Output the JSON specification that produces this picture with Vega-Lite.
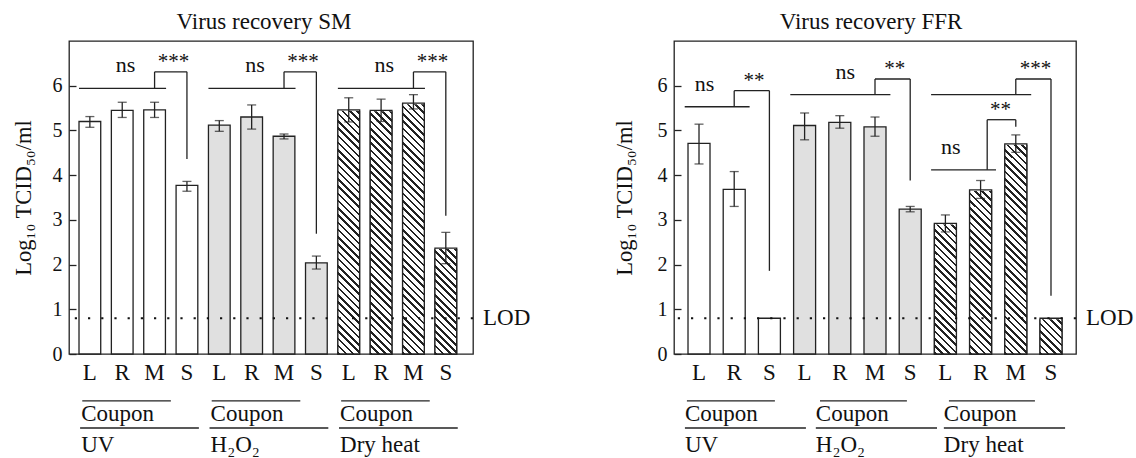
{
"$schema": "https://vega.github.io/schema/vega-lite/v6.json",
"padding": {"left": 11, "top": 10, "right": 5, "bottom": 0},
"bounds": "flush",
"spacing": 201,
"config": {
  "font": "Liberation Serif",
  "view": {"stroke": "#222", "strokeWidth": 1.3},
  "axis": {"grid": false, "labelColor": "#111", "titleColor": "#111", "titleFontWeight": "normal", "labelFont": "Liberation Serif", "titleFont": "Liberation Serif"},
  "text": {"color": "#111", "font": "Liberation Serif"}
},
"hconcat": [
{
  "width": 404, "height": 313,
  "title": {"text": "Virus recovery SM", "fontSize": 23, "fontWeight": "normal", "baseline": "alphabetic", "offset": -11, "anchor": "middle", "frame": "group", "dx": -7, "color": "#111"},
  "data": {"values": [
    {"key":"UV|L","treat":"UV","value":5.2,"lo":5.07,"hi":5.31},
    {"key":"UV|R","treat":"UV","value":5.45,"lo":5.29,"hi":5.63},
    {"key":"UV|M","treat":"UV","value":5.46,"lo":5.29,"hi":5.63},
    {"key":"UV|S","treat":"UV","value":3.77,"lo":3.64,"hi":3.86},
    {"key":"H2O2|L","treat":"H2O2","value":5.12,"lo":4.98,"hi":5.22},
    {"key":"H2O2|R","treat":"H2O2","value":5.3,"lo":5.03,"hi":5.57},
    {"key":"H2O2|M","treat":"H2O2","value":4.87,"lo":4.81,"hi":4.92},
    {"key":"H2O2|S","treat":"H2O2","value":2.04,"lo":1.9,"hi":2.19},
    {"key":"Dry heat|L","treat":"Dry heat","value":5.46,"lo":5.19,"hi":5.73},
    {"key":"Dry heat|R","treat":"Dry heat","value":5.45,"lo":5.2,"hi":5.7},
    {"key":"Dry heat|M","treat":"Dry heat","value":5.61,"lo":5.48,"hi":5.8},
    {"key":"Dry heat|S","treat":"Dry heat","value":2.37,"lo":2.02,"hi":2.72}
  ]},
  "layer": [
    {
      "mark": {"type": "bar", "stroke": "#222", "strokeWidth": 1.3},
      "encoding": {
        "x": {"field": "key", "type": "nominal", "sort": null,
          "scale": {"domain": ["UV|L","UV|R","UV|M","UV|S","H2O2|L","H2O2|R","H2O2|M","H2O2|S","Dry heat|L","Dry heat|R","Dry heat|M","Dry heat|S"], "paddingInner": 0.329, "paddingOuter": 0.407, "align": 0.38},
          "axis": {"labelExpr": "slice(datum.label, -1)", "labelFontSize": 23, "labelPadding": 7, "ticks": false, "domain": false, "title": null, "labelAngle": 0}},
        "y": {"field": "value", "type": "quantitative", "stack": null, "title": "Log₁₀ TCID₅₀/ml",
          "scale": {"domain": [0, 7], "nice": false},
          "axis": {"values": [0,1,2,3,4,5,6], "tickSize": -7, "tickColor": "#222", "tickWidth": 1.3, "labelPadding": 14, "labelFontSize": 20, "domain": false, "title": "Log₁₀ TCID₅₀/ml", "titleFontSize": 22.5, "titlePadding": 17}},
        "fill": {"field": "treat", "type": "nominal", "scale": {"domain": ["UV","H2O2","Dry heat"], "range": ["#ffffff","#e0e0e0","#ffffff"]}, "legend": null}
      }
    },
    {
      "transform": [{"filter": "datum.treat == 'Dry heat'"}],
      "mark": {"type": "bar", "strokeWidth": 0, "fill": {"gradient": "linear", "x1": 0, "y1": 1, "x2": 0.0869, "y2": -0.0739, "stops": [
{"offset":0,"color":"#222"},{"offset":0.009,"color":"#222"},{"offset":0.009,"color":"#fff"},{"offset":0.025,"color":"#fff"},
{"offset":0.025,"color":"#222"},{"offset":0.034,"color":"#222"},{"offset":0.034,"color":"#fff"},{"offset":0.05,"color":"#fff"},
{"offset":0.05,"color":"#222"},{"offset":0.059,"color":"#222"},{"offset":0.059,"color":"#fff"},{"offset":0.075,"color":"#fff"},
{"offset":0.075,"color":"#222"},{"offset":0.084,"color":"#222"},{"offset":0.084,"color":"#fff"},{"offset":0.1,"color":"#fff"},
{"offset":0.1,"color":"#222"},{"offset":0.109,"color":"#222"},{"offset":0.109,"color":"#fff"},{"offset":0.125,"color":"#fff"},
{"offset":0.125,"color":"#222"},{"offset":0.134,"color":"#222"},{"offset":0.134,"color":"#fff"},{"offset":0.15,"color":"#fff"},
{"offset":0.15,"color":"#222"},{"offset":0.159,"color":"#222"},{"offset":0.159,"color":"#fff"},{"offset":0.175,"color":"#fff"},
{"offset":0.175,"color":"#222"},{"offset":0.184,"color":"#222"},{"offset":0.184,"color":"#fff"},{"offset":0.2,"color":"#fff"},
{"offset":0.2,"color":"#222"},{"offset":0.209,"color":"#222"},{"offset":0.209,"color":"#fff"},{"offset":0.225,"color":"#fff"},
{"offset":0.225,"color":"#222"},{"offset":0.234,"color":"#222"},{"offset":0.234,"color":"#fff"},{"offset":0.25,"color":"#fff"},
{"offset":0.25,"color":"#222"},{"offset":0.259,"color":"#222"},{"offset":0.259,"color":"#fff"},{"offset":0.275,"color":"#fff"},
{"offset":0.275,"color":"#222"},{"offset":0.284,"color":"#222"},{"offset":0.284,"color":"#fff"},{"offset":0.3,"color":"#fff"},
{"offset":0.3,"color":"#222"},{"offset":0.309,"color":"#222"},{"offset":0.309,"color":"#fff"},{"offset":0.325,"color":"#fff"},
{"offset":0.325,"color":"#222"},{"offset":0.334,"color":"#222"},{"offset":0.334,"color":"#fff"},{"offset":0.35,"color":"#fff"},
{"offset":0.35,"color":"#222"},{"offset":0.359,"color":"#222"},{"offset":0.359,"color":"#fff"},{"offset":0.375,"color":"#fff"},
{"offset":0.375,"color":"#222"},{"offset":0.384,"color":"#222"},{"offset":0.384,"color":"#fff"},{"offset":0.4,"color":"#fff"},
{"offset":0.4,"color":"#222"},{"offset":0.409,"color":"#222"},{"offset":0.409,"color":"#fff"},{"offset":0.425,"color":"#fff"},
{"offset":0.425,"color":"#222"},{"offset":0.434,"color":"#222"},{"offset":0.434,"color":"#fff"},{"offset":0.45,"color":"#fff"},
{"offset":0.45,"color":"#222"},{"offset":0.459,"color":"#222"},{"offset":0.459,"color":"#fff"},{"offset":0.475,"color":"#fff"},
{"offset":0.475,"color":"#222"},{"offset":0.484,"color":"#222"},{"offset":0.484,"color":"#fff"},{"offset":0.5,"color":"#fff"},
{"offset":0.5,"color":"#222"},{"offset":0.509,"color":"#222"},{"offset":0.509,"color":"#fff"},{"offset":0.525,"color":"#fff"},
{"offset":0.525,"color":"#222"},{"offset":0.534,"color":"#222"},{"offset":0.534,"color":"#fff"},{"offset":0.55,"color":"#fff"},
{"offset":0.55,"color":"#222"},{"offset":0.559,"color":"#222"},{"offset":0.559,"color":"#fff"},{"offset":0.575,"color":"#fff"},
{"offset":0.575,"color":"#222"},{"offset":0.584,"color":"#222"},{"offset":0.584,"color":"#fff"},{"offset":0.6,"color":"#fff"},
{"offset":0.6,"color":"#222"},{"offset":0.609,"color":"#222"},{"offset":0.609,"color":"#fff"},{"offset":0.625,"color":"#fff"},
{"offset":0.625,"color":"#222"},{"offset":0.634,"color":"#222"},{"offset":0.634,"color":"#fff"},{"offset":0.65,"color":"#fff"},
{"offset":0.65,"color":"#222"},{"offset":0.659,"color":"#222"},{"offset":0.659,"color":"#fff"},{"offset":0.675,"color":"#fff"},
{"offset":0.675,"color":"#222"},{"offset":0.684,"color":"#222"},{"offset":0.684,"color":"#fff"},{"offset":0.7,"color":"#fff"},
{"offset":0.7,"color":"#222"},{"offset":0.709,"color":"#222"},{"offset":0.709,"color":"#fff"},{"offset":0.725,"color":"#fff"},
{"offset":0.725,"color":"#222"},{"offset":0.734,"color":"#222"},{"offset":0.734,"color":"#fff"},{"offset":0.75,"color":"#fff"},
{"offset":0.75,"color":"#222"},{"offset":0.759,"color":"#222"},{"offset":0.759,"color":"#fff"},{"offset":0.775,"color":"#fff"},
{"offset":0.775,"color":"#222"},{"offset":0.784,"color":"#222"},{"offset":0.784,"color":"#fff"},{"offset":0.8,"color":"#fff"},
{"offset":0.8,"color":"#222"},{"offset":0.809,"color":"#222"},{"offset":0.809,"color":"#fff"},{"offset":0.825,"color":"#fff"},
{"offset":0.825,"color":"#222"},{"offset":0.834,"color":"#222"},{"offset":0.834,"color":"#fff"},{"offset":0.85,"color":"#fff"},
{"offset":0.85,"color":"#222"},{"offset":0.859,"color":"#222"},{"offset":0.859,"color":"#fff"},{"offset":0.875,"color":"#fff"},
{"offset":0.875,"color":"#222"},{"offset":0.884,"color":"#222"},{"offset":0.884,"color":"#fff"},{"offset":0.9,"color":"#fff"},
{"offset":0.9,"color":"#222"},{"offset":0.909,"color":"#222"},{"offset":0.909,"color":"#fff"},{"offset":0.925,"color":"#fff"},
{"offset":0.925,"color":"#222"},{"offset":0.934,"color":"#222"},{"offset":0.934,"color":"#fff"},{"offset":0.95,"color":"#fff"},
{"offset":0.95,"color":"#222"},{"offset":0.959,"color":"#222"},{"offset":0.959,"color":"#fff"},{"offset":0.975,"color":"#fff"},
{"offset":0.975,"color":"#222"},{"offset":0.984,"color":"#222"},{"offset":0.984,"color":"#fff"},{"offset":1,"color":"#fff"}
      ]}},
      "encoding": {
        "x": {"field": "key", "type": "nominal", "sort": null},
        "y": {"datum": 0, "type": "quantitative"},
        "y2": {"datum": 6}
      }
    },
    {
      "transform": [{"filter": "datum.treat == 'Dry heat'"}],
      "mark": {"type": "bar", "fill": "#ffffff", "stroke": "#ffffff", "strokeWidth": 2},
      "encoding": {
        "x": {"field": "key", "type": "nominal", "sort": null},
        "y": {"field": "value", "type": "quantitative", "title": "Log₁₀ TCID₅₀/ml"},
        "y2": {"datum": 6.05}
      }
    },
    {
      "transform": [{"filter": "datum.treat == 'Dry heat'"}],
      "mark": {"type": "bar", "fill": "transparent", "stroke": "#222", "strokeWidth": 1.3},
      "encoding": {
        "x": {"field": "key", "type": "nominal", "sort": null},
        "y": {"field": "value", "type": "quantitative", "stack": null, "title": "Log₁₀ TCID₅₀/ml"}
      }
    },
    {
      "transform": [{"filter": "isValid(datum.lo)"}],
      "mark": {"type": "errorbar", "ticks": true, "size": 9, "thickness": 1.3, "color": "#222"},
      "encoding": {
        "x": {"field": "key", "type": "nominal", "sort": null},
        "y": {"field": "lo", "type": "quantitative", "title": "Log₁₀ TCID₅₀/ml"},
        "y2": {"field": "hi"}
      }
    },
    {
      "data": {"values": [{"lod": 0.8}]},
      "mark": {"type": "rule", "color": "#111", "strokeWidth": 2.2, "strokeDash": [2.2, 11]},
      "encoding": {"y": {"field": "lod", "type": "quantitative", "title": "Log₁₀ TCID₅₀/ml"}}
    },
    {
      "data": {"values": [{"lod": 0.8}]},
      "mark": {"type": "text", "text": "LOD", "align": "left", "baseline": "middle", "dx": 10, "fontSize": 23},
      "encoding": {"x": {"value": "width"}, "y": {"field": "lod", "type": "quantitative", "title": "Log₁₀ TCID₅₀/ml"}}
    },
    {
      "data": {"values": [
        {"a":"UV|L","b":"UV|M","y":5.94},
        {"a":"H2O2|L","b":"H2O2|M","y":5.94},
        {"a":"Dry heat|L","b":"Dry heat|M","y":5.94}
      ]},
      "mark": {"type": "rule", "color": "#222", "strokeWidth": 1.3},
      "encoding": {
        "x": {"field": "a", "type": "nominal", "sort": null, "bandPosition": 0},
        "x2": {"field": "b", "bandPosition": 1.03},
        "y": {"field": "y", "type": "quantitative", "title": "Log₁₀ TCID₅₀/ml"}
      }
    },
    {
      "data": {"values": [
        {"a":"UV|M","b":"UV|M","y1":5.94,"y2":6.31},
        {"a":"UV|M","b":"UV|S","y1":6.31,"y2":6.31},
        {"a":"UV|S","b":"UV|S","y1":6.31,"y2":4.36},
        {"a":"H2O2|M","b":"H2O2|M","y1":5.94,"y2":6.31},
        {"a":"H2O2|M","b":"H2O2|S","y1":6.31,"y2":6.31},
        {"a":"H2O2|S","b":"H2O2|S","y1":6.31,"y2":2.69},
        {"a":"Dry heat|M","b":"Dry heat|M","y1":5.94,"y2":6.31},
        {"a":"Dry heat|M","b":"Dry heat|S","y1":6.31,"y2":6.31},
        {"a":"Dry heat|S","b":"Dry heat|S","y1":6.31,"y2":3.09}
      ]},
      "mark": {"type": "rule", "color": "#222", "strokeWidth": 1.3},
      "encoding": {
        "x": {"field": "a", "type": "nominal", "sort": null, "bandPosition": 0.5},
        "x2": {"field": "b", "bandPosition": 0.5},
        "y": {"field": "y1", "type": "quantitative", "title": "Log₁₀ TCID₅₀/ml"},
        "y2": {"field": "y2"}
      }
    },
    {
      "data": {"values": [
        {"a":"UV|R","y":6.3},
        {"a":"H2O2|R","y":6.3},
        {"a":"Dry heat|R","y":6.3}
      ]},
      "mark": {"type": "text", "text": "ns", "align": "center", "baseline": "alphabetic", "fontSize": 22},
      "encoding": {
        "x": {"field": "a", "type": "nominal", "sort": null, "bandPosition": 0.65},
        "y": {"field": "y", "type": "quantitative", "title": "Log₁₀ TCID₅₀/ml"}
      }
    },
    {
      "data": {"values": [
        {"a":"UV|M","y":6.4,"t":"***"},
        {"a":"H2O2|M","y":6.4,"t":"***"},
        {"a":"Dry heat|M","y":6.4,"t":"***"}
      ]},
      "mark": {"type": "text", "align": "center", "baseline": "alphabetic", "fontSize": 21},
      "encoding": {
        "x": {"field": "a", "type": "nominal", "sort": null, "bandPosition": 1.375},
        "y": {"field": "y", "type": "quantitative", "title": "Log₁₀ TCID₅₀/ml"},
        "text": {"field": "t"}
      }
    },
    {
      "data": {"values": [
        {"L":"UV|L","M":"UV|M","S":"UV|S","label":"UV"},
        {"L":"H2O2|L","M":"H2O2|M","S":"H2O2|S","label":"H₂O₂"},
        {"L":"Dry heat|L","M":"Dry heat|M","S":"Dry heat|S","label":"Dry heat"}
      ]},
      "layer": [
        {"mark": {"type": "rule", "color": "#222", "strokeWidth": 1.3},
         "encoding": {"x": {"field": "L", "type": "nominal", "sort": null, "bandPosition": 0.15}, "x2": {"field": "M", "bandPosition": 1.25}, "y": {"datum": -1.05, "type": "quantitative", "title": "Log₁₀ TCID₅₀/ml"}}},
        {"mark": {"type": "rule", "color": "#222", "strokeWidth": 1.3},
         "encoding": {"x": {"field": "L", "type": "nominal", "sort": null, "bandPosition": 0.05}, "x2": {"field": "S", "bandPosition": 1.05}, "y": {"datum": -1.655, "type": "quantitative", "title": "Log₁₀ TCID₅₀/ml"}}},
        {"mark": {"type": "text", "text": "Coupon", "align": "left", "baseline": "alphabetic", "fontSize": 23},
         "encoding": {"x": {"field": "L", "type": "nominal", "sort": null, "bandPosition": 0.1}, "y": {"datum": -1.507, "type": "quantitative", "title": "Log₁₀ TCID₅₀/ml"}}},
        {"mark": {"type": "text", "align": "left", "baseline": "alphabetic", "fontSize": 23},
         "encoding": {"x": {"field": "L", "type": "nominal", "sort": null, "bandPosition": 0.1}, "text": {"field": "label"}, "y": {"datum": -2.2, "type": "quantitative", "title": "Log₁₀ TCID₅₀/ml"}}}
      ]
    }
  ]
},
{
  "width": 402, "height": 313,
  "title": {"text": "Virus recovery FFR", "fontSize": 23, "fontWeight": "normal", "baseline": "alphabetic", "offset": -11, "anchor": "middle", "frame": "group", "dx": -4, "color": "#111"},
  "data": {"values": [
    {"key":"UV|L","treat":"UV","value":4.71,"lo":4.25,"hi":5.14},
    {"key":"UV|R","treat":"UV","value":3.68,"lo":3.3,"hi":4.08},
    {"key":"UV|S","treat":"UV","value":0.8,"lo":null,"hi":null},
    {"key":"H2O2|L","treat":"H2O2","value":5.11,"lo":4.79,"hi":5.39},
    {"key":"H2O2|R","treat":"H2O2","value":5.18,"lo":5.05,"hi":5.33},
    {"key":"H2O2|M","treat":"H2O2","value":5.08,"lo":4.87,"hi":5.3},
    {"key":"H2O2|S","treat":"H2O2","value":3.24,"lo":3.18,"hi":3.3},
    {"key":"Dry heat|L","treat":"Dry heat","value":2.92,"lo":2.73,"hi":3.11},
    {"key":"Dry heat|R","treat":"Dry heat","value":3.67,"lo":3.48,"hi":3.88},
    {"key":"Dry heat|M","treat":"Dry heat","value":4.7,"lo":4.51,"hi":4.9},
    {"key":"Dry heat|S","treat":"Dry heat","value":0.8,"lo":null,"hi":null}
  ]},
  "layer": [
    {
      "mark": {"type": "bar", "stroke": "#222", "strokeWidth": 1.3},
      "encoding": {
        "x": {"field": "key", "type": "nominal", "sort": null,
          "scale": {"domain": ["UV|L","UV|R","UV|S","H2O2|L","H2O2|R","H2O2|M","H2O2|S","Dry heat|L","Dry heat|R","Dry heat|M","Dry heat|S"], "paddingInner": 0.375, "paddingOuter": 0.398, "align": 0.5},
          "axis": {"labelExpr": "slice(datum.label, -1)", "labelFontSize": 23, "labelPadding": 7, "ticks": false, "domain": false, "title": null, "labelAngle": 0}},
        "y": {"field": "value", "type": "quantitative", "stack": null, "title": "Log₁₀ TCID₅₀/ml",
          "scale": {"domain": [0, 7], "nice": false},
          "axis": {"values": [0,1,2,3,4,5,6], "tickSize": -7, "tickColor": "#222", "tickWidth": 1.3, "labelPadding": 14, "labelFontSize": 20, "domain": false, "title": "Log₁₀ TCID₅₀/ml", "titleFontSize": 22.5, "titlePadding": 21}},
        "fill": {"field": "treat", "type": "nominal", "scale": {"domain": ["UV","H2O2","Dry heat"], "range": ["#ffffff","#e0e0e0","#ffffff"]}, "legend": null}
      }
    },
    {
      "transform": [{"filter": "datum.treat == 'Dry heat'"}],
      "mark": {"type": "bar", "strokeWidth": 0, "fill": {"gradient": "linear", "x1": 0, "y1": 1, "x2": 0.0881, "y2": -0.0748, "stops": [
{"offset":0,"color":"#222"},{"offset":0.009,"color":"#222"},{"offset":0.009,"color":"#fff"},{"offset":0.025,"color":"#fff"},
{"offset":0.025,"color":"#222"},{"offset":0.034,"color":"#222"},{"offset":0.034,"color":"#fff"},{"offset":0.05,"color":"#fff"},
{"offset":0.05,"color":"#222"},{"offset":0.059,"color":"#222"},{"offset":0.059,"color":"#fff"},{"offset":0.075,"color":"#fff"},
{"offset":0.075,"color":"#222"},{"offset":0.084,"color":"#222"},{"offset":0.084,"color":"#fff"},{"offset":0.1,"color":"#fff"},
{"offset":0.1,"color":"#222"},{"offset":0.109,"color":"#222"},{"offset":0.109,"color":"#fff"},{"offset":0.125,"color":"#fff"},
{"offset":0.125,"color":"#222"},{"offset":0.134,"color":"#222"},{"offset":0.134,"color":"#fff"},{"offset":0.15,"color":"#fff"},
{"offset":0.15,"color":"#222"},{"offset":0.159,"color":"#222"},{"offset":0.159,"color":"#fff"},{"offset":0.175,"color":"#fff"},
{"offset":0.175,"color":"#222"},{"offset":0.184,"color":"#222"},{"offset":0.184,"color":"#fff"},{"offset":0.2,"color":"#fff"},
{"offset":0.2,"color":"#222"},{"offset":0.209,"color":"#222"},{"offset":0.209,"color":"#fff"},{"offset":0.225,"color":"#fff"},
{"offset":0.225,"color":"#222"},{"offset":0.234,"color":"#222"},{"offset":0.234,"color":"#fff"},{"offset":0.25,"color":"#fff"},
{"offset":0.25,"color":"#222"},{"offset":0.259,"color":"#222"},{"offset":0.259,"color":"#fff"},{"offset":0.275,"color":"#fff"},
{"offset":0.275,"color":"#222"},{"offset":0.284,"color":"#222"},{"offset":0.284,"color":"#fff"},{"offset":0.3,"color":"#fff"},
{"offset":0.3,"color":"#222"},{"offset":0.309,"color":"#222"},{"offset":0.309,"color":"#fff"},{"offset":0.325,"color":"#fff"},
{"offset":0.325,"color":"#222"},{"offset":0.334,"color":"#222"},{"offset":0.334,"color":"#fff"},{"offset":0.35,"color":"#fff"},
{"offset":0.35,"color":"#222"},{"offset":0.359,"color":"#222"},{"offset":0.359,"color":"#fff"},{"offset":0.375,"color":"#fff"},
{"offset":0.375,"color":"#222"},{"offset":0.384,"color":"#222"},{"offset":0.384,"color":"#fff"},{"offset":0.4,"color":"#fff"},
{"offset":0.4,"color":"#222"},{"offset":0.409,"color":"#222"},{"offset":0.409,"color":"#fff"},{"offset":0.425,"color":"#fff"},
{"offset":0.425,"color":"#222"},{"offset":0.434,"color":"#222"},{"offset":0.434,"color":"#fff"},{"offset":0.45,"color":"#fff"},
{"offset":0.45,"color":"#222"},{"offset":0.459,"color":"#222"},{"offset":0.459,"color":"#fff"},{"offset":0.475,"color":"#fff"},
{"offset":0.475,"color":"#222"},{"offset":0.484,"color":"#222"},{"offset":0.484,"color":"#fff"},{"offset":0.5,"color":"#fff"},
{"offset":0.5,"color":"#222"},{"offset":0.509,"color":"#222"},{"offset":0.509,"color":"#fff"},{"offset":0.525,"color":"#fff"},
{"offset":0.525,"color":"#222"},{"offset":0.534,"color":"#222"},{"offset":0.534,"color":"#fff"},{"offset":0.55,"color":"#fff"},
{"offset":0.55,"color":"#222"},{"offset":0.559,"color":"#222"},{"offset":0.559,"color":"#fff"},{"offset":0.575,"color":"#fff"},
{"offset":0.575,"color":"#222"},{"offset":0.584,"color":"#222"},{"offset":0.584,"color":"#fff"},{"offset":0.6,"color":"#fff"},
{"offset":0.6,"color":"#222"},{"offset":0.609,"color":"#222"},{"offset":0.609,"color":"#fff"},{"offset":0.625,"color":"#fff"},
{"offset":0.625,"color":"#222"},{"offset":0.634,"color":"#222"},{"offset":0.634,"color":"#fff"},{"offset":0.65,"color":"#fff"},
{"offset":0.65,"color":"#222"},{"offset":0.659,"color":"#222"},{"offset":0.659,"color":"#fff"},{"offset":0.675,"color":"#fff"},
{"offset":0.675,"color":"#222"},{"offset":0.684,"color":"#222"},{"offset":0.684,"color":"#fff"},{"offset":0.7,"color":"#fff"},
{"offset":0.7,"color":"#222"},{"offset":0.709,"color":"#222"},{"offset":0.709,"color":"#fff"},{"offset":0.725,"color":"#fff"},
{"offset":0.725,"color":"#222"},{"offset":0.734,"color":"#222"},{"offset":0.734,"color":"#fff"},{"offset":0.75,"color":"#fff"},
{"offset":0.75,"color":"#222"},{"offset":0.759,"color":"#222"},{"offset":0.759,"color":"#fff"},{"offset":0.775,"color":"#fff"},
{"offset":0.775,"color":"#222"},{"offset":0.784,"color":"#222"},{"offset":0.784,"color":"#fff"},{"offset":0.8,"color":"#fff"},
{"offset":0.8,"color":"#222"},{"offset":0.809,"color":"#222"},{"offset":0.809,"color":"#fff"},{"offset":0.825,"color":"#fff"},
{"offset":0.825,"color":"#222"},{"offset":0.834,"color":"#222"},{"offset":0.834,"color":"#fff"},{"offset":0.85,"color":"#fff"},
{"offset":0.85,"color":"#222"},{"offset":0.859,"color":"#222"},{"offset":0.859,"color":"#fff"},{"offset":0.875,"color":"#fff"},
{"offset":0.875,"color":"#222"},{"offset":0.884,"color":"#222"},{"offset":0.884,"color":"#fff"},{"offset":0.9,"color":"#fff"},
{"offset":0.9,"color":"#222"},{"offset":0.909,"color":"#222"},{"offset":0.909,"color":"#fff"},{"offset":0.925,"color":"#fff"},
{"offset":0.925,"color":"#222"},{"offset":0.934,"color":"#222"},{"offset":0.934,"color":"#fff"},{"offset":0.95,"color":"#fff"},
{"offset":0.95,"color":"#222"},{"offset":0.959,"color":"#222"},{"offset":0.959,"color":"#fff"},{"offset":0.975,"color":"#fff"},
{"offset":0.975,"color":"#222"},{"offset":0.984,"color":"#222"},{"offset":0.984,"color":"#fff"},{"offset":1,"color":"#fff"}
      ]}},
      "encoding": {
        "x": {"field": "key", "type": "nominal", "sort": null},
        "y": {"datum": 0, "type": "quantitative"},
        "y2": {"datum": 6}
      }
    },
    {
      "transform": [{"filter": "datum.treat == 'Dry heat'"}],
      "mark": {"type": "bar", "fill": "#ffffff", "stroke": "#ffffff", "strokeWidth": 2},
      "encoding": {
        "x": {"field": "key", "type": "nominal", "sort": null},
        "y": {"field": "value", "type": "quantitative", "title": "Log₁₀ TCID₅₀/ml"},
        "y2": {"datum": 6.05}
      }
    },
    {
      "transform": [{"filter": "datum.treat == 'Dry heat'"}],
      "mark": {"type": "bar", "fill": "transparent", "stroke": "#222", "strokeWidth": 1.3},
      "encoding": {
        "x": {"field": "key", "type": "nominal", "sort": null},
        "y": {"field": "value", "type": "quantitative", "stack": null, "title": "Log₁₀ TCID₅₀/ml"}
      }
    },
    {
      "transform": [{"filter": "isValid(datum.lo)"}],
      "mark": {"type": "errorbar", "ticks": true, "size": 9, "thickness": 1.3, "color": "#222"},
      "encoding": {
        "x": {"field": "key", "type": "nominal", "sort": null},
        "y": {"field": "lo", "type": "quantitative", "title": "Log₁₀ TCID₅₀/ml"},
        "y2": {"field": "hi"}
      }
    },
    {
      "data": {"values": [{"lod": 0.8}]},
      "mark": {"type": "rule", "color": "#111", "strokeWidth": 2.2, "strokeDash": [2.2, 11]},
      "encoding": {"y": {"field": "lod", "type": "quantitative", "title": "Log₁₀ TCID₅₀/ml"}}
    },
    {
      "data": {"values": [{"lod": 0.8}]},
      "mark": {"type": "text", "text": "LOD", "align": "left", "baseline": "middle", "dx": 10, "fontSize": 23},
      "encoding": {"x": {"value": "width"}, "y": {"field": "lod", "type": "quantitative", "title": "Log₁₀ TCID₅₀/ml"}}
    },
    {
      "data": {"values": [
        {"a":"UV|L","b":"UV|R","y":5.53},
        {"a":"H2O2|L","b":"H2O2|M","y":5.8},
        {"a":"Dry heat|L","b":"Dry heat|M","y":5.8},
        {"a":"Dry heat|L","b":"Dry heat|R","y":4.12}
      ]},
      "mark": {"type": "rule", "color": "#222", "strokeWidth": 1.3},
      "encoding": {
        "x": {"field": "a", "type": "nominal", "sort": null, "bandPosition": -0.15},
        "x2": {"field": "b", "bandPosition": 1.2},
        "y": {"field": "y", "type": "quantitative", "title": "Log₁₀ TCID₅₀/ml"}
      }
    },
    {
      "data": {"values": [
        {"a":"UV|R","b":"UV|R","y1":5.53,"y2":5.89},
        {"a":"UV|R","b":"UV|S","y1":5.89,"y2":5.89},
        {"a":"UV|S","b":"UV|S","y1":5.89,"y2":1.86},
        {"a":"H2O2|M","b":"H2O2|M","y1":5.8,"y2":6.15},
        {"a":"H2O2|M","b":"H2O2|S","y1":6.15,"y2":6.15},
        {"a":"H2O2|S","b":"H2O2|S","y1":6.15,"y2":3.88},
        {"a":"Dry heat|M","b":"Dry heat|M","y1":5.8,"y2":6.15},
        {"a":"Dry heat|M","b":"Dry heat|S","y1":6.15,"y2":6.15},
        {"a":"Dry heat|S","b":"Dry heat|S","y1":6.15,"y2":1.3},
        {"a":"Dry heat|M","b":"Dry heat|M","y1":5.24,"y2":5.08}
      ]},
      "mark": {"type": "rule", "color": "#222", "strokeWidth": 1.3},
      "encoding": {
        "x": {"field": "a", "type": "nominal", "sort": null, "bandPosition": 0.5},
        "x2": {"field": "b", "bandPosition": 0.5},
        "y": {"field": "y1", "type": "quantitative", "title": "Log₁₀ TCID₅₀/ml"},
        "y2": {"field": "y2"}
      }
    },
    {
      "data": {"values": [{"a":"Dry heat|R","y1":4.12,"y2":5.24}]},
      "mark": {"type": "rule", "color": "#222", "strokeWidth": 1.3},
      "encoding": {
        "x": {"field": "a", "type": "nominal", "sort": null, "bandPosition": 0.8},
        "y": {"field": "y1", "type": "quantitative", "title": "Log₁₀ TCID₅₀/ml"},
        "y2": {"field": "y2"}
      }
    },
    {
      "data": {"values": [{"a":"Dry heat|R","b":"Dry heat|M","y":5.24}]},
      "mark": {"type": "rule", "color": "#222", "strokeWidth": 1.3},
      "encoding": {
        "x": {"field": "a", "type": "nominal", "sort": null, "bandPosition": 0.8},
        "x2": {"field": "b", "bandPosition": 0.5},
        "y": {"field": "y", "type": "quantitative", "title": "Log₁₀ TCID₅₀/ml"}
      }
    },
    {
      "data": {"values": [
        {"a":"UV|L","y":5.89},
        {"a":"H2O2|R","y":6.15},
        {"a":"Dry heat|L","y":4.47}
      ]},
      "mark": {"type": "text", "text": "ns", "align": "center", "baseline": "alphabetic", "fontSize": 22},
      "encoding": {
        "x": {"field": "a", "type": "nominal", "sort": null, "bandPosition": 0.75},
        "y": {"field": "y", "type": "quantitative", "title": "Log₁₀ TCID₅₀/ml"}
      }
    },
    {
      "data": {"values": [
        {"a":"UV|R","y":5.98,"t":"**"},
        {"a":"H2O2|M","y":6.24,"t":"**"},
        {"a":"Dry heat|M","y":6.24,"t":"***"},
        {"a":"Dry heat|R","y":5.33,"t":"**"}
      ]},
      "mark": {"type": "text", "align": "center", "baseline": "alphabetic", "fontSize": 21},
      "encoding": {
        "x": {"field": "a", "type": "nominal", "sort": null, "bandPosition": 1.4},
        "y": {"field": "y", "type": "quantitative", "title": "Log₁₀ TCID₅₀/ml"},
        "text": {"field": "t"}
      }
    },
    {
      "data": {"values": [
        {"a":"UV|L","b":"UV|S","c":"H2O2|L","label":"UV"}
      ]},
      "layer": [
        {"mark": {"type": "rule", "color": "#222", "strokeWidth": 1.3},
         "encoding": {"x": {"field": "a", "type": "nominal", "sort": null, "bandPosition": -0.05}, "x2": {"field": "b", "bandPosition": 0.75}, "y": {"datum": -1.05, "type": "quantitative", "title": "Log₁₀ TCID₅₀/ml"}}},
        {"mark": {"type": "rule", "color": "#222", "strokeWidth": 1.3},
         "encoding": {"x": {"field": "a", "type": "nominal", "sort": null, "bandPosition": -0.14}, "x2": {"field": "c", "bandPosition": 0.56}, "y": {"datum": -1.655, "type": "quantitative", "title": "Log₁₀ TCID₅₀/ml"}}},
        {"mark": {"type": "text", "text": "Coupon", "align": "left", "baseline": "alphabetic", "fontSize": 23},
         "encoding": {"x": {"field": "a", "type": "nominal", "sort": null, "bandPosition": -0.14}, "y": {"datum": -1.507, "type": "quantitative", "title": "Log₁₀ TCID₅₀/ml"}}},
        {"mark": {"type": "text", "align": "left", "baseline": "alphabetic", "fontSize": 23},
         "encoding": {"x": {"field": "a", "type": "nominal", "sort": null, "bandPosition": -0.14}, "text": {"field": "label"}, "y": {"datum": -2.2, "type": "quantitative", "title": "Log₁₀ TCID₅₀/ml"}}}
      ]
    },
    {
      "data": {"values": [
        {"a":"H2O2|L","b":"H2O2|S","c":"Dry heat|L","label":"H₂O₂"}
      ]},
      "layer": [
        {"mark": {"type": "rule", "color": "#222", "strokeWidth": 1.3},
         "encoding": {"x": {"field": "a", "type": "nominal", "sort": null, "bandPosition": 1.2}, "x2": {"field": "b", "bandPosition": 0.35}, "y": {"datum": -1.05, "type": "quantitative", "title": "Log₁₀ TCID₅₀/ml"}}},
        {"mark": {"type": "rule", "color": "#222", "strokeWidth": 1.3},
         "encoding": {"x": {"field": "a", "type": "nominal", "sort": null, "bandPosition": 1.01}, "x2": {"field": "c", "bandPosition": 0.12}, "y": {"datum": -1.655, "type": "quantitative", "title": "Log₁₀ TCID₅₀/ml"}}},
        {"mark": {"type": "text", "text": "Coupon", "align": "left", "baseline": "alphabetic", "fontSize": 23},
         "encoding": {"x": {"field": "a", "type": "nominal", "sort": null, "bandPosition": 1.01}, "y": {"datum": -1.507, "type": "quantitative", "title": "Log₁₀ TCID₅₀/ml"}}},
        {"mark": {"type": "text", "align": "left", "baseline": "alphabetic", "fontSize": 23},
         "encoding": {"x": {"field": "a", "type": "nominal", "sort": null, "bandPosition": 1.01}, "text": {"field": "label"}, "y": {"datum": -2.2, "type": "quantitative", "title": "Log₁₀ TCID₅₀/ml"}}}
      ]
    },
    {
      "data": {"values": [
        {"a":"Dry heat|L","b":"Dry heat|M","c":"Dry heat|S","label":"Dry heat"}
      ]},
      "layer": [
        {"mark": {"type": "rule", "color": "#222", "strokeWidth": 1.3},
         "encoding": {"x": {"field": "a", "type": "nominal", "sort": null, "bandPosition": 0.66}, "x2": {"field": "b", "bandPosition": 1.37}, "y": {"datum": -1.05, "type": "quantitative", "title": "Log₁₀ TCID₅₀/ml"}}},
        {"mark": {"type": "rule", "color": "#222", "strokeWidth": 1.3},
         "encoding": {"x": {"field": "a", "type": "nominal", "sort": null, "bandPosition": 0.43}, "x2": {"field": "c", "bandPosition": 1.14}, "y": {"datum": -1.655, "type": "quantitative", "title": "Log₁₀ TCID₅₀/ml"}}},
        {"mark": {"type": "text", "text": "Coupon", "align": "left", "baseline": "alphabetic", "fontSize": 23},
         "encoding": {"x": {"field": "a", "type": "nominal", "sort": null, "bandPosition": 0.43}, "y": {"datum": -1.507, "type": "quantitative", "title": "Log₁₀ TCID₅₀/ml"}}},
        {"mark": {"type": "text", "align": "left", "baseline": "alphabetic", "fontSize": 23},
         "encoding": {"x": {"field": "a", "type": "nominal", "sort": null, "bandPosition": 0.43}, "text": {"field": "label"}, "y": {"datum": -2.2, "type": "quantitative", "title": "Log₁₀ TCID₅₀/ml"}}}
      ]
    }
  ]
}
]
}
